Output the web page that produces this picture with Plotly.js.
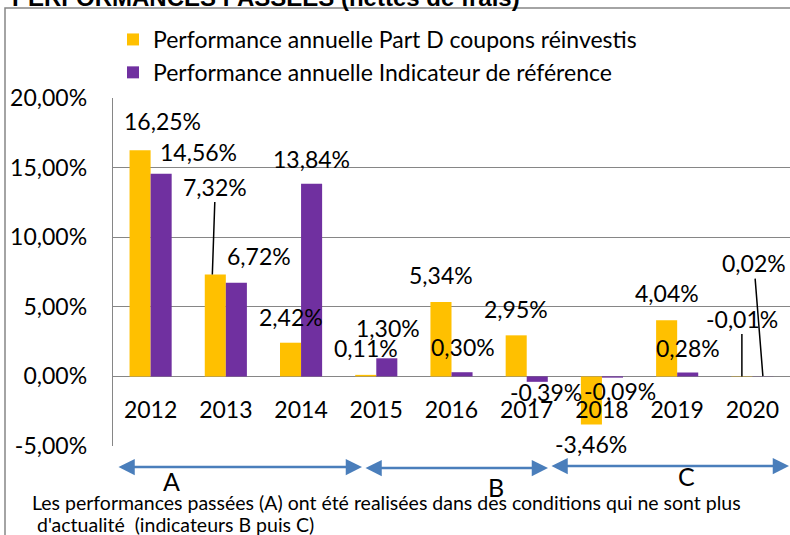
<!DOCTYPE html>
<html><head><meta charset="utf-8">
<script src="https://cdn.plot.ly/plotly-3.0.1.min.js"></script>
<style>html,body{margin:0;padding:0;background:#fff;overflow:hidden}#chart{width:790px;height:535px}</style>
</head><body><div id="chart"></div>
<script>
// ---- data ----
const years = ['2012','2013','2014','2015','2016','2017','2018','2019','2020'];
const partD = [16.25, 7.32, 2.42, 0.11, 5.34, 2.95, -3.46, 4.04, 0.02];
const indicateur = [14.56, 6.72, 13.84, 1.30, 0.30, -0.39, -0.09, 0.28, -0.01];
const seriesNames = ['Performance annuelle Part D coupons réinvestis', 'Performance annuelle Indicateur de référence'];
const yTickVals = [-5, 0, 5, 10, 15, 20];
const yTickText = ['-5,00%', '0,00%', '5,00%', '10,00%', '15,00%', '20,00%'];
const chartTitle = 'PERFORMANCES PASSEES (nettes de frais)';
const periodLabels = ['A', 'B', 'C'];
const footnoteLines = ['Les performances passées (A) ont été realisées dans des conditions qui ne sont plus', " d'actualité  (indicateurs B puis C)"];

// ---- layout helpers (positions / styles) ----
const W = 790, H = 535, ML = 113, MR = 0, MT = 98, MB = 89;
const PW = W - ML - MR, PH = H - MT - MB;
const px2x = p => (p - ML) / PW;
const px2y = p => (H - MB - p) / PH;
const FONT = 'Lato, Carlito, "Open Sans", sans-serif';
const YELLOW = '#FFC000', PURPLE = '#7030A0', GRID = '#868686', BLUE = '#4A7EBB';
const fmt = v => v.toFixed(2).replace('.', ',') + '%';

// label offsets [dx, dy] relative to bar end (pixels, dy positive = down); leader: [tipdx, ax, ay]
const offD = [[22,-29], null, [0,-26], [0,-27], [0,-27], [0,-26], [0,19], [0,-27], null];
const leadD = {1: [-3, 3, -88], 8: [21, -9, -113]};
const offI = [[37,-22], [23,-27], [0,-25], [1,-30], [1,-25], [9,10], [8,13], [0,-25], null];
const leadI = {8: [-21, 0, -58]};

const annotations = [];
function addLabels(vals, offs, leads, barShift) {
  vals.forEach((v, i) => {
    const base = {x: i, y: v, xref: 'x', yref: 'y', text: fmt(v), xanchor: 'center', yanchor: 'middle',
      font: {family: FONT, size: 23, color: '#000'}};
    if (leads[i]) {
      const [tdx, ax, ay] = leads[i];
      annotations.push(Object.assign(base, {showarrow: true, arrowhead: 0, arrowwidth: 1.5,
        arrowcolor: '#000', xshift: barShift + tdx, ax: ax, ay: ay, standoff: 0}));
    } else {
      const [dx, dy] = offs[i];
      annotations.push(Object.assign(base, {showarrow: false, xshift: barShift + dx, yshift: -dy}));
    }
  });
}
addLabels(partD, offD, leadD, -10.5);
addLabels(indicateur, offI, leadI, 10.5);

// title (clipped at top)
annotations.push({text: '<b>' + chartTitle + '</b>', xref: 'paper', yref: 'paper', x: px2x(10), y: px2y(-3),
  xanchor: 'left', yanchor: 'middle', showarrow: false, font: {family: 'Liberation Sans, Arial, sans-serif', size: 24, color: '#000'}});

// period arrows
const arrowSpecs = [[117, 362, 467], [364, 548, 468], [550, 790, 466]];
arrowSpecs.forEach(([a, b, yy]) => {
  annotations.push({text: '', xref: 'paper', yref: 'paper', x: px2x(b), y: px2y(yy), axref: 'pixel', ayref: 'pixel',
    ax: a - b, ay: 0, showarrow: true, arrowside: 'end+start', arrowhead: 2, arrowsize: 1.3, arrowwidth: 2.5, arrowcolor: BLUE});
});
const periodPos = [[171, 481], [496, 487], [686, 476]];
periodLabels.forEach((t, i) => {
  annotations.push({text: t, xref: 'paper', yref: 'paper', x: px2x(periodPos[i][0]), y: px2y(periodPos[i][1]),
    xanchor: 'center', yanchor: 'middle', showarrow: false, font: {family: FONT, size: 25, color: '#000'}});
});
// footnote
const footPos = [502, 524];
footnoteLines.forEach((t, i) => {
  annotations.push({text: t, xref: 'paper', yref: 'paper', x: px2x(30), y: px2y(footPos[i]), xanchor: 'left', yanchor: 'middle',
    showarrow: false, font: {family: '"Liberation Sans Narrow", "Arial Narrow", Lato, sans-serif', size: 19.5, color: '#000'}});
});

const shapes = [{type: 'rect', xref: 'paper', yref: 'paper', x0: px2x(5), x1: px2x(800), y0: px2y(560), y1: px2y(8),
  line: {color: GRID, width: 1.5}, fillcolor: 'rgba(0,0,0,0)', layer: 'below'}];

const data = [
  {type: 'bar', x: years, y: partD, name: seriesNames[0], marker: {color: YELLOW}},
  {type: 'bar', x: years, y: indicateur, name: seriesNames[1], marker: {color: PURPLE}}
];

const layout = {
  width: W, height: H, margin: {l: ML, r: MR, t: MT, b: MB, pad: 0},
  paper_bgcolor: '#fff', plot_bgcolor: '#fff',
  barmode: 'group', bargap: 0.44, bargroupgap: 0,
  showlegend: true,
  legend: {x: 0, xanchor: 'left', y: px2y(18), yanchor: 'top', orientation: 'v', bgcolor: 'rgba(0,0,0,0)',
    font: {family: FONT, size: 23, color: '#000'}},
  xaxis: {type: 'category', range: [-0.5, years.length - 0.5], autorange: false, anchor: 'free', position: px2y(376),
    showline: false, ticks: '', showgrid: false,
    zeroline: false, tickfont: {family: FONT, size: 23, color: '#000'}, ticklabelstandoff: 18},
  yaxis: {range: [-5, 20], autorange: false, tickvals: yTickVals, ticktext: yTickText, showgrid: true, gridcolor: GRID, gridwidth: 1.3,
    zeroline: false, showline: true, linecolor: GRID, linewidth: 1.3, ticks: '', ticklabelstandoff: 20,
    tickfont: {family: FONT, size: 23, color: '#000'}},
  annotations: annotations, shapes: shapes
};
Plotly.newPlot('chart', data, layout, {staticPlot: true, displayModeBar: false});
</script></body></html>
